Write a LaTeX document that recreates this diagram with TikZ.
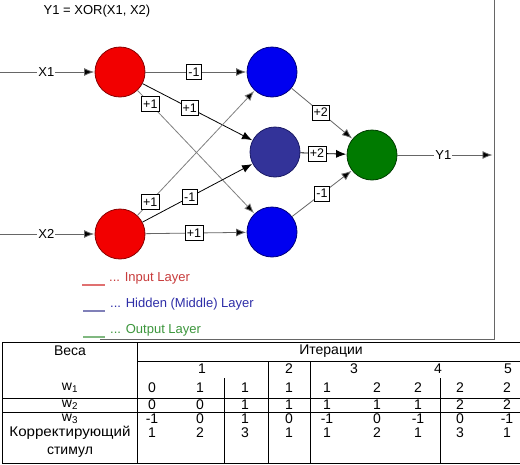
\documentclass[tikz,border=0pt]{standalone}
\usepackage{fontspec}
\setmainfont{Liberation Sans}
\usetikzlibrary{arrows.meta}
\definecolor{inred}{HTML}{F20000}
\definecolor{inredb}{HTML}{8A0000}
\definecolor{hidblue}{HTML}{0000F0}
\definecolor{hidblueb}{HTML}{00007A}
\definecolor{midblue}{HTML}{333399}
\definecolor{midblueb}{HTML}{1A1A66}
\definecolor{outgreen}{HTML}{007A00}
\definecolor{outgreenb}{HTML}{003D00}
\definecolor{legred}{HTML}{C83C3C}
\definecolor{legblue}{HTML}{2E2EA8}
\definecolor{leggreen}{HTML}{3C963C}
\definecolor{legredl}{HTML}{E07070}
\definecolor{legbluel}{HTML}{8080B8}
\definecolor{leggreenl}{HTML}{80B880}
\definecolor{edgegray}{HTML}{666666}
\begin{document}
\begin{tikzpicture}[x=1pt,y=-1pt,
  font=\fontsize{13}{15}\selectfont,
  neuron/.style={circle,minimum size=50pt,inner sep=0pt,line width=0.8pt},
  conn/.style={draw=edgegray,line width=0.8pt,-{Latex[length=10pt,width=8pt,fill=black]},shorten >=0.5pt},
  connk/.style={conn,draw=black},
  wbox/.style={draw=black,fill=white,inner xsep=1.8pt,inner ysep=0pt,minimum height=15pt,line width=0.6pt,font=\fontsize{12.5}{12.5}\selectfont},
  iolabel/.style={fill=white,inner sep=1pt},
  tab/.style={line width=0.8pt,draw=black},
  cell/.style={font=\fontsize{14}{15}\selectfont,inner sep=0pt}
]
\useasboundingbox (0,0) rectangle (520,464);
\fill[white] (0,0) rectangle (520,464);

% frame
\draw[edgegray,line width=0.8pt] (494,0) -- (494,339) -- (100,339);

% title
\node (title) at (97,11) {Y1 = XOR(X1, X2)};

% neurons
\node[neuron,fill=inred,draw=inredb] (r1) at (120,72) {};
\node[neuron,fill=inred,draw=inredb] (r2) at (120,234) {};
\node[neuron,fill=hidblue,draw=hidblueb] (h1) at (272,72) {};
\node[neuron,fill=midblue,draw=midblueb] (h2) at (275,152) {};
\node[neuron,fill=hidblue,draw=hidblueb] (h3) at (272,232) {};
\node[neuron,fill=outgreen,draw=outgreenb] (g) at (372,155) {};

% inputs / output
\coordinate (x1s) at (0,72);
\coordinate (x2s) at (0,234);
\coordinate (y1e) at (493,155);
\draw[conn] (x1s) -- node[iolabel,pos=0.49] (lx1) {X1} (r1);
\draw[conn] (x2s) -- node[iolabel,pos=0.49] (lx2) {X2} (r2);
\draw[conn] (g) -- node[iolabel,pos=0.48] (ly1) {Y1} (y1e);

% input -> hidden
\draw[conn] (r1) -- node[wbox,pos=0.48] (w11) {-1} (h1);
\draw[connk] (r1) -- node[wbox,pos=0.43] (w12) {+1} (h2);
\draw[conn,draw=gray] (r1) -- node[wbox,pos=0.11] (w13) {+1} (h3);
\draw[conn,draw=gray] (r2) -- node[wbox,pos=0.11] (w21) {+1} (h1);
\draw[connk] (r2) -- node[wbox,pos=0.43] (w22) {-1} (h2);
\draw[conn] (r2) -- node[wbox,pos=0.48] (w23) {+1} (h3);

% hidden -> output
\draw[conn] (h1) -- node[wbox,pos=0.48] (v1) {+2} (g);
\draw[connk] (h2) -- node[wbox,pos=0.36] (v2) {+2} (g);
\draw[conn] (h3) -- node[wbox,pos=0.5] (v3) {-1} (g);

% legend
\draw[legredl,line width=1.2pt] (82,285) -- (105,285);
\node[anchor=west,text=legred,inner sep=0pt] (leg1) at (109,278) {... Input Layer};
\draw[legbluel,line width=1.2pt] (83,311) -- (105,311);
\node[anchor=west,text=legblue,inner sep=0pt] (leg2) at (110,304) {... Hidden (Middle) Layer};
\draw[leggreenl,line width=1.2pt] (83,337) -- (105,337);
\node[anchor=west,text=leggreen,inner sep=0pt] (leg3) at (110,330) {... Output Layer};

% table lines
\draw[tab] (2,342) -- (520,342);
\draw[tab] (2,342) -- (2,463) -- (520,463);
\draw[tab] (137,342) -- (137,463);
\draw[tab] (137,361) -- (520,361);
\draw[tab] (2,398) -- (520,398);
\draw[tab] (2,412) -- (520,412);
\draw[tab] (224,378) -- (224,463);
\draw[tab] (268,361) -- (268,463);
\draw[tab] (310,361) -- (310,463);
\draw[tab] (440,378) -- (440,463);

% table header
\node[cell] (hves) at (70,351) {Веса};
\node[cell] (hit) at (331,351) {Итерации};
\foreach \n/\x in {1/202,2/289,3/354,4/438,5/508}
  \node[cell] (it\n) at (\x,369) {\n};

% row labels
\node[cell] (lw1) at (70,388) {w\textsubscript{1}};
\node[cell] (lw2) at (70,405) {w\textsubscript{2}};
\node[cell] (lw3) at (70,419) {w\textsubscript{3}};
\node[cell] (lk1) at (70,433) {\scalebox{1.08}[1]{Корректирующий}};
\node[cell] (lk2) at (70,452) {стимул};

% values
\foreach \v [count=\i] in {0,1,1,1,1,2,2,2,2}{
  \pgfmathsetmacro{\cx}{{152,200,245,289,327,377,418,460,507}[\i-1]}
  \node[cell] (a\i) at (\cx,388) {\v};}
\foreach \v [count=\i] in {0,0,1,1,1,1,1,2,2}{
  \pgfmathsetmacro{\cx}{{152,200,245,289,327,377,418,460,507}[\i-1]}
  \node[cell] (b\i) at (\cx,405) {\v};}
\foreach \v [count=\i] in {-1,0,1,0,-1,0,-1,0,-1}{
  \pgfmathsetmacro{\cx}{{152,200,245,289,327,377,418,460,507}[\i-1]}
  \node[cell] (c\i) at (\cx,419) {\v};}
\foreach \v [count=\i] in {1,2,3,1,1,2,1,3,1}{
  \pgfmathsetmacro{\cx}{{152,200,245,289,327,377,418,460,507}[\i-1]}
  \node[cell] (d\i) at (\cx,433) {\v};}
\end{tikzpicture}
\end{document}
